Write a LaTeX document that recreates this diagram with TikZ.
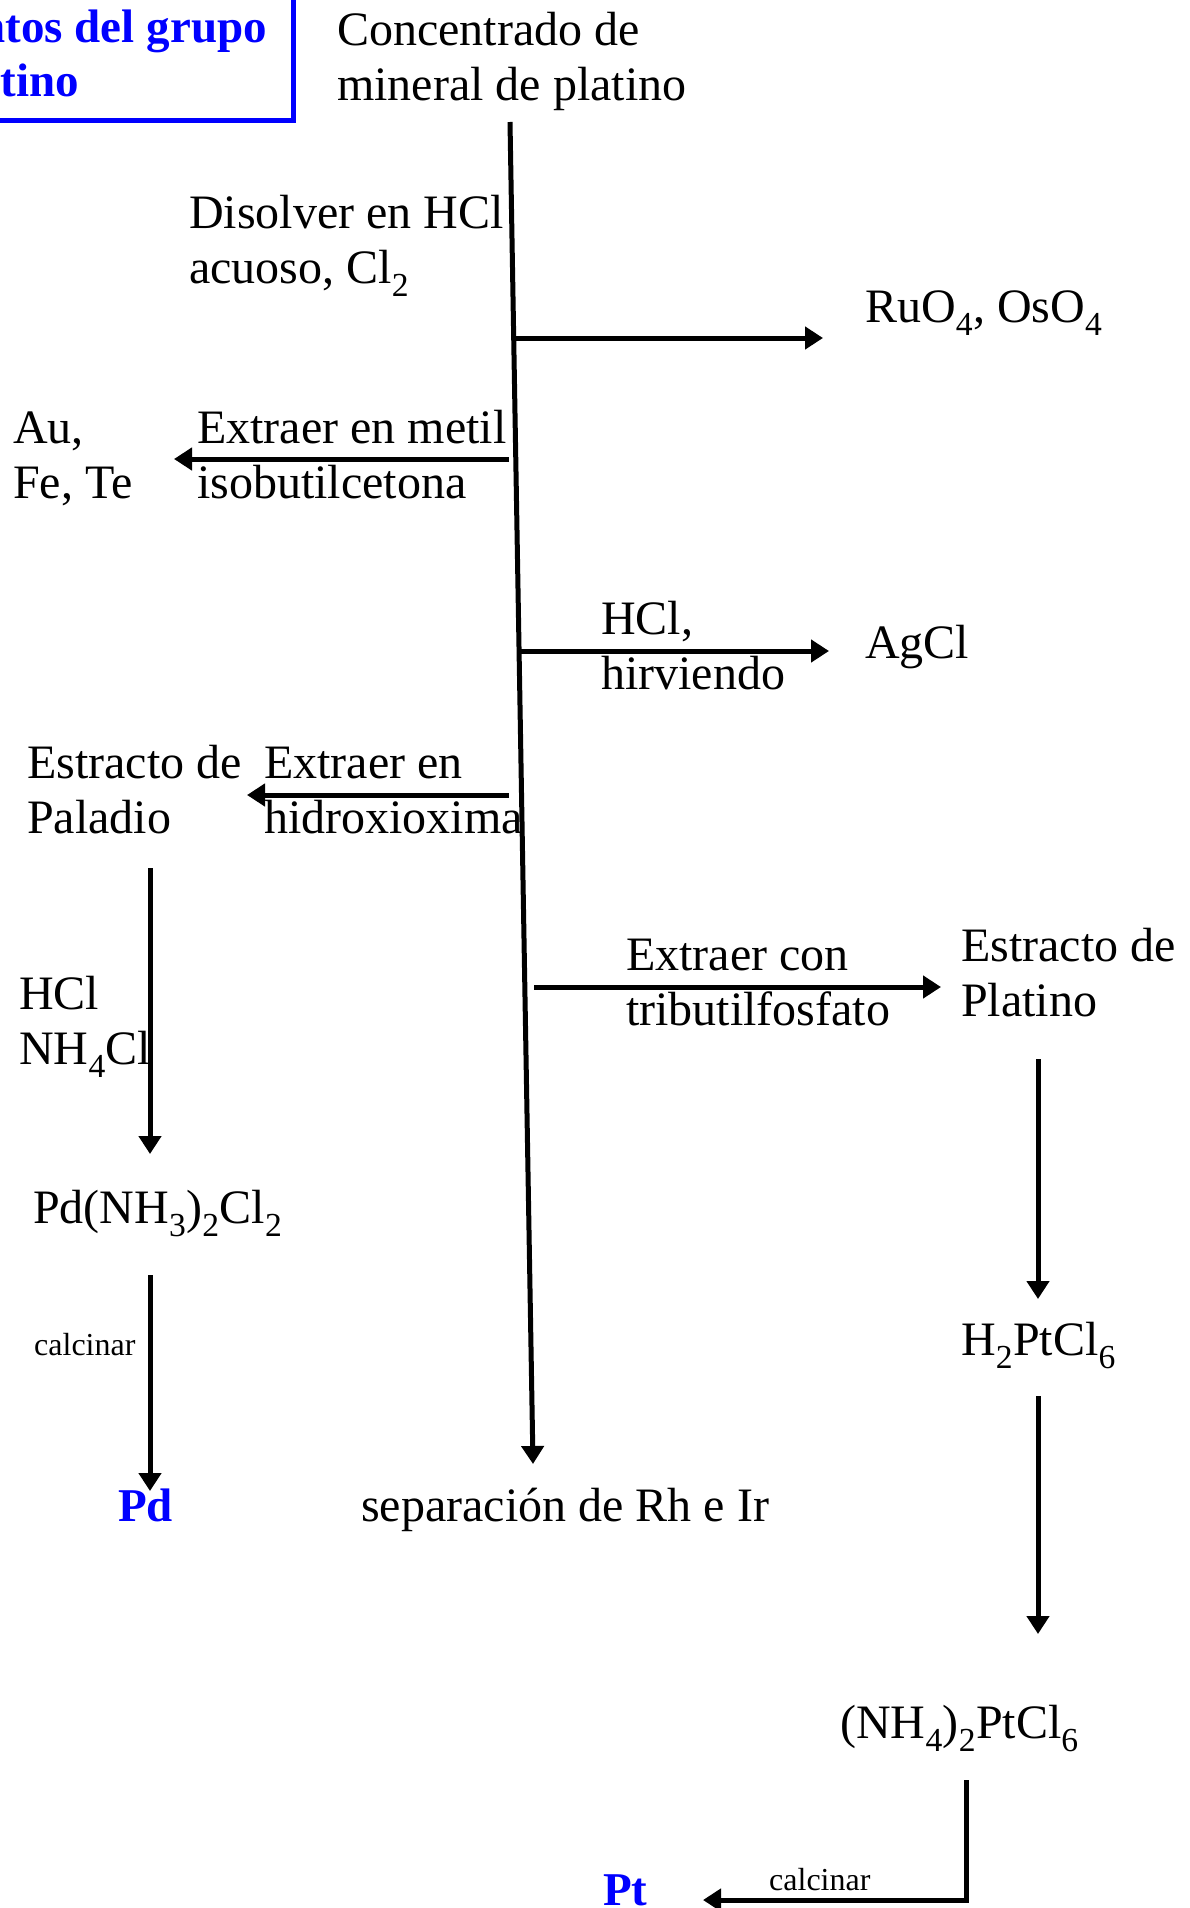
\documentclass[tikz,border=0pt]{standalone}
\usepackage{fontspec}
\setmainfont{Liberation Serif}
\usetikzlibrary{arrows.meta}
\newcommand{\ml}[1]{\begin{tabular}[t]{@{}l@{}}#1\end{tabular}}
\begin{document}
\begin{tikzpicture}[x=1pt,y=-1pt,
  T/.style={inner sep=0pt, anchor=base west, font=\fontsize{48}{55}\selectfont},
  B/.style={inner sep=0pt, anchor=base west, font=\fontsize{47}{54}\selectfont\bfseries, text=blue},
  S/.style={inner sep=0pt, anchor=base west, font=\fontsize{32}{36}\selectfont},
  ar/.style={line width=5pt, -{Triangle[length=18pt,width=22pt]}}]
\useasboundingbox (0,0) rectangle (1189,1908);
\clip (0,0) rectangle (1189,1908);
% title box
\draw[blue, line width=5pt] (-200,-50) rectangle (293,121);
\node[B] (title) at (-146,43) {\ml{Elementos del grupo\\\hspace*{0.25em}del platino}};
% texts
\node[T] (conc) at (337,46) {\ml{Concentrado de\\mineral de platino}};
\node[T] (disol) at (189,228) {\ml{Disolver en HCl\\acuoso, Cl\textsubscript{2}}};
\node[T] (ruo) at (865,322) {RuO\textsubscript{4}, OsO\textsubscript{4}};
\node[T] (metil) at (197,443) {\ml{Extraer en metil\\isobutilcetona}};
\node[T] (au) at (13,443) {\ml{Au,\\Fe, Te}};
\node[T] (hcl) at (601,634) {\ml{HCl,\\hirviendo}};
\node[T] (agcl) at (865,658) {AgCl};
\node[T] (estpd) at (27,778) {\ml{Estracto de\\Paladio}};
\node[T] (hidrox) at (264,778) {\ml{Extraer en\\hidroxioxima}};
\node[T] (tribu) at (626,970) {\ml{Extraer con\\tributilfosfato}};
\node[T] (estpt) at (961,961) {\ml{Estracto de\\Platino}};
\node[T] (hclnh) at (19,1009) {\ml{HCl\\NH\textsubscript{4}Cl}};
\node[T] (pdnh) at (33,1223) {Pd(NH\textsubscript{3})\textsubscript{2}Cl\textsubscript{2}};
\node[S] (calc1) at (34,1355) {calcinar};
\node[B] (pd) at (118,1521) {Pd};
\node[T] (sep) at (361,1521) {separación de Rh e Ir};
\node[T] (h2pt) at (961,1355) {H\textsubscript{2}PtCl\textsubscript{6}};
\node[T] (nh4pt) at (840,1738) {(NH\textsubscript{4})\textsubscript{2}PtCl\textsubscript{6}};
\node[B] (pt) at (603,1905) {Pt};
\node[S] (calc2) at (769,1890) {calcinar};
% coordinates
\coordinate (mTop) at (510,122);
\coordinate (mBot) at (533,1464);
\coordinate (r1a) at (512,338); \coordinate (r1b) at (823,338);
\coordinate (l1a) at (509,459); \coordinate (l1b) at (174,459);
\coordinate (r2a) at (519,651); \coordinate (r2b) at (829,651);
\coordinate (l2a) at (509,795); \coordinate (l2b) at (247,795);
\coordinate (r3a) at (534,987); \coordinate (r3b) at (941,987);
\coordinate (pda) at (150,868); \coordinate (pdb) at (150,1154);
\coordinate (pdc) at (150,1275); \coordinate (pdd) at (150,1491);
\coordinate (pta) at (1038,1059); \coordinate (ptb) at (1038,1299);
\coordinate (ptc) at (1038,1396); \coordinate (ptd) at (1038,1634);
\coordinate (pte) at (966,1780); \coordinate (ptf) at (966,1900); \coordinate (ptg) at (703,1900);
% connectors
\draw[ar] (mTop) -- (mBot);
\draw[ar] (r1a) -- (r1b);
\draw[ar] (l1a) -- (l1b);
\draw[ar] (r2a) -- (r2b);
\draw[ar] (l2a) -- (l2b);
\draw[ar] (r3a) -- (r3b);
\draw[ar] (pda) -- (pdb);
\draw[ar] (pdc) -- (pdd);
\draw[ar] (pta) -- (ptb);
\draw[ar] (ptc) -- (ptd);
\draw[ar] (pte) -- (ptf) -- (ptg);
\end{tikzpicture}
\end{document}
